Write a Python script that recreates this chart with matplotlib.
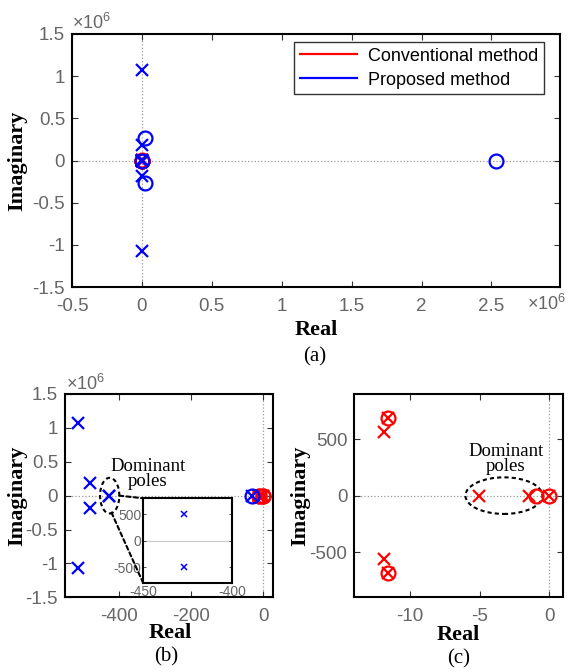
import matplotlib
matplotlib.use('Agg')
import matplotlib.pyplot as plt
from matplotlib.patches import Ellipse, ConnectionPatch
from matplotlib.lines import Line2D
from matplotlib.ticker import FuncFormatter

plt.rcParams['font.family'] = ['Liberation Sans', 'DejaVu Sans']
plt.rcParams['axes.unicode_minus'] = False
plt.rcParams['mathtext.fontset'] = 'custom'
plt.rcParams['mathtext.rm'] = 'Liberation Sans'

# conventional method (red)
conv_pole_re = [-11.85, -11.85, -11.6, -11.6, -5.05, -1.46, 0.0]
conv_pole_im = [565, -565, 684, -684, 0, 0, 0]
conv_zero_re = [-11.6, -11.6, -0.96, 0.0]
conv_zero_im = [684, -684, 0, 0]

# proposed method (blue)
prop_pole_re = [-514, -514, -480, -480, -427, -427, -32]
prop_pole_im = [1.07e6, -1.07e6, 0.183e6, -0.183e6, 500, -500, 0]
prop_zero_re = [-32, 2.4e4, 2.4e4, 2.533e6]
prop_zero_im = [0, 0.265e6, -0.265e6, 0]

# dominant poles of the proposed method (inset)
dom_re = [-427, -427]
dom_im = [500, -500]

W, H = 570, 672
SERIF = 'Liberation Serif'
GREY = '#666666'
RED = '#ff0000'
BLUE = '#0000ff'


def box(x0, y0, x1, y1):
    return [x0 / W, 1 - y1 / H, (x1 - x0) / W, (y1 - y0) / H]


def put(fig, x, y, s, **kw):
    fig.text(x / W, 1 - y / H, s, **kw)


def style_axes(ax, fs=13.5):
    for sp in ax.spines.values():
        sp.set_linewidth(1.5)
        sp.set_color('black')
    ax.tick_params(direction='in', top=True, right=True, length=4, width=0.8,
                   colors='#333333', labelcolor=GREY, labelsize=fs)
    ax.tick_params(axis='x', pad=8)
    ax.tick_params(axis='y', pad=5)
    ax.axhline(0, color='#999999', ls=':', lw=0.9, zorder=0)
    ax.axvline(0, color='#999999', ls=':', lw=0.9, zorder=0)


def plot_pz(ax, pre, pim, zre, zim, color):
    ax.plot(pre, pim, 'x', color=color, ms=9, mew=1.6, ls='none')
    ax.plot(zre, zim, 'o', color=color, ms=10, mew=1.6, mfc='none', ls='none')


mega = FuncFormatter(lambda v, p: f'{v / 1e6:g}')
plain = FuncFormatter(lambda v, p: f'{v:g}')

fig = plt.figure(figsize=(W / 100, H / 100), dpi=100)

# (a) full view
ax_a = fig.add_axes(box(72, 34, 560, 287))
style_axes(ax_a)
plot_pz(ax_a, conv_pole_re, conv_pole_im, conv_zero_re, conv_zero_im, RED)
plot_pz(ax_a, prop_pole_re, prop_pole_im, prop_zero_re, prop_zero_im, BLUE)
ax_a.set_xlim(-0.5e6, 2.99e6)
ax_a.set_ylim(-1.5e6, 1.5e6)
ax_a.set_xticks([-0.5e6, 0, 0.5e6, 1e6, 1.5e6, 2e6, 2.5e6])
ax_a.set_yticks([-1.5e6, -1e6, -0.5e6, 0, 0.5e6, 1e6, 1.5e6])
ax_a.xaxis.set_major_formatter(mega)
ax_a.yaxis.set_major_formatter(mega)
handles = [Line2D([], [], color=RED, lw=1.6), Line2D([], [], color=BLUE, lw=1.6)]
leg = ax_a.legend(handles, ['Conventional method', 'Proposed method'],
                  loc='upper right', bbox_to_anchor=(0.967, 0.968), borderaxespad=0,
                  fontsize=13, fancybox=False, edgecolor='#333333', framealpha=1,
                  handlelength=3.2, handletextpad=0.6, borderpad=0.3, labelspacing=0.4)
leg.get_frame().set_linewidth(1.0)

# (b) proposed method
ax_b = fig.add_axes(box(65, 394, 273.3, 597.3))
style_axes(ax_b)
plot_pz(ax_b, conv_pole_re, conv_pole_im, conv_zero_re, conv_zero_im, RED)
plot_pz(ax_b, prop_pole_re, prop_pole_im, prop_zero_re, prop_zero_im, BLUE)
ax_b.set_xlim(-550, 28)
ax_b.set_ylim(-1.5e6, 1.5e6)
ax_b.set_xticks([-400, -200, 0])
ax_b.set_yticks([-1.5e6, -1e6, -0.5e6, 0, 0.5e6, 1e6, 1.5e6])
ax_b.xaxis.set_major_formatter(plain)
ax_b.yaxis.set_major_formatter(mega)
ax_b.add_patch(Ellipse((-426, 0), 53.5, 0.527e6, fill=False, ec='black',
                       lw=1.5, ls=(0, (2, 1.5))))
ax_b.text(-320, 0.32e6, 'Dominant\npoles', ha='center', va='center',
          fontfamily=SERIF, fontsize=13.5, linespacing=0.85)

ax_in = fig.add_axes(box(143.3, 498.3, 232.3, 583.3))
for sp in ax_in.spines.values():
    sp.set_linewidth(1.5)
ax_in.tick_params(direction='in', top=True, right=True, length=2.5, width=0.6,
                  colors='#333333', labelcolor=GREY, labelsize=10, pad=1.5)
ax_in.axhline(0, color='#cccccc', lw=0.9, zorder=0)
ax_in.plot(dom_re, dom_im, 'x', color=BLUE, ms=4, mew=1.1, ls='none')
ax_in.set_xlim(-450, -400)
ax_in.set_ylim(-800, 800)
ax_in.set_xticks([-450, -400])
ax_in.set_yticks([-500, 0, 500])
ax_in.xaxis.set_major_formatter(plain)
ax_in.yaxis.set_major_formatter(plain)

for xa, xb in [((-399.5, 0), (0, 1)), ((-421, -0.25e6), (0, 0))]:
    fig.add_artist(ConnectionPatch(xyA=xa, coordsA=ax_b.transData,
                                   xyB=xb, coordsB=ax_in.transAxes,
                                   color='black', lw=1.5, ls=(0, (2, 1.5))))

# (c) conventional method
ax_c = fig.add_axes(box(354.3, 394, 563.3, 597.3))
style_axes(ax_c)
plot_pz(ax_c, conv_pole_re, conv_pole_im, conv_zero_re, conv_zero_im, RED)
ax_c.set_xlim(-14, 1)
ax_c.set_ylim(-900, 900)
ax_c.set_xticks([-10, -5, 0])
ax_c.set_yticks([-500, 0, 500])
ax_c.xaxis.set_major_formatter(plain)
ax_c.yaxis.set_major_formatter(plain)
ax_c.add_patch(Ellipse((-3.26, 0), 5.53, 324, fill=False, ec='black',
                       lw=1.5, ls=(0, (2, 1.5))))
ax_c.text(-3.12, 324, 'Dominant\npoles', ha='center', va='center',
          fontfamily=SERIF, fontsize=13.5, linespacing=0.85)

# exponent labels
exp_kw = dict(fontsize=13, color=GREY, ha='left', va='bottom')
put(fig, 72, 33, r'$\times10^{6}$', **exp_kw)
put(fig, 527, 314, r'$\times10^{6}$', **exp_kw)
put(fig, 66, 394, r'$\times10^{6}$', **exp_kw)

# axis labels and captions
lab = dict(fontfamily=SERIF, fontsize=16, fontweight='bold', ha='center', va='center')
put(fig, 316, 330, 'Real', **lab)
put(fig, 17.5, 161, 'Imaginary', rotation=90, **lab)
put(fig, 170, 633, 'Real', **lab)
put(fig, 17.5, 496, 'Imaginary', rotation=90, **lab)
put(fig, 458.7, 635, 'Real', **lab)
put(fig, 300.5, 496, 'Imaginary', rotation=90, **lab)

cap = dict(fontfamily=SERIF, fontsize=15, ha='center', va='center')
put(fig, 315, 357, '(a)', **cap)
put(fig, 166, 657, '(b)', **cap)
put(fig, 458.7, 659, '(c)', **cap)

fig.savefig('out.png', dpi=100, facecolor='white')
